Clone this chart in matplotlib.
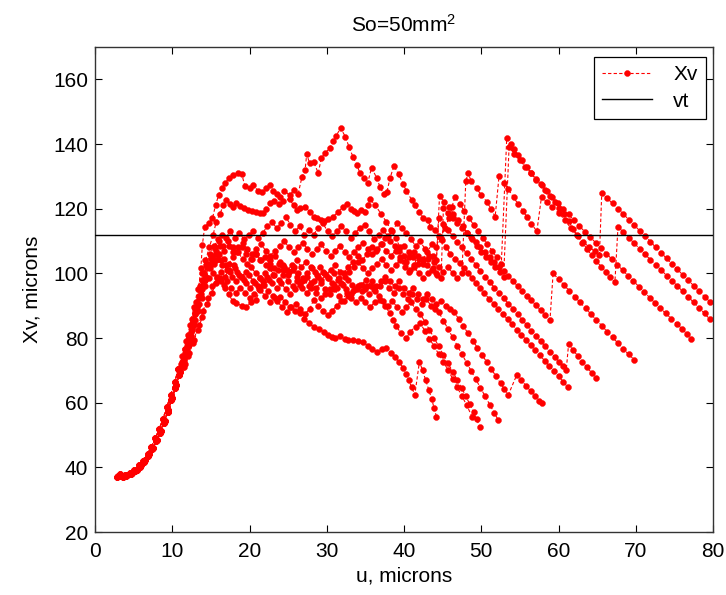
import matplotlib
matplotlib.use('Agg')
import matplotlib.pyplot as plt

plt.rcParams['font.family'] = ['Liberation Sans', 'DejaVu Sans']
plt.rcParams['mathtext.fontset'] = 'custom'
plt.rcParams['mathtext.rm'] = 'Liberation Sans'

# ---------------- data ----------------
x_ticks = [0, 10, 20, 30, 40, 50, 60, 70, 80]
y_ticks = [20, 40, 60, 80, 100, 120, 140, 160]
vt_level = 112

# shared initial rise (three slightly different realisations)
rise_a = [(3.0,37.2),(3.6,37.0),(4.2,37.5),(4.8,38.2),(5.4,39.3),(6.0,40.8),(6.5,42.3),(7.0,44.0),(7.5,46.0),(8.0,48.4),(8.5,51.2),(9.0,54.3),(9.5,57.8),(10.0,61.5),(10.5,65.4),(11.0,69.5)]
rise_b = [(3.3,37.8),(3.9,37.6),(4.5,38.3),(5.1,39.2),(5.7,40.6),(6.2,42.0),(6.8,44.2),(7.3,46.4),(7.8,49.0),(8.3,51.8),(8.8,55.0),(9.3,58.6),(9.8,62.4),(10.3,66.3),(10.8,70.4)]
rise_c = [(2.8,37.0),(3.4,37.4),(4.0,37.2),(4.6,37.9),(5.2,38.8),(5.8,40.2),(6.3,41.6),(6.9,43.6),(7.4,45.7),(7.9,48.1),(8.4,50.7),(8.9,53.8),(9.4,57.2),(9.9,60.8),(10.4,64.6),(10.9,68.6)]

run1_tail = [(11.5,73.5),(12.0,78.0),(12.5,83.0),(13.0,89.0),(13.4,95.0),(13.7,101.5),(13.9,108.8),(14.2,114.4),(14.7,115.5),(15.2,117.0),(15.6,121.0),(16.0,124.2),(16.4,126.5),(16.8,127.9),(17.4,129.5),(17.9,130.4),(18.5,131.0),(19.0,130.7),(19.4,127.0),(20.0,126.5),(20.5,127.3),(21.1,125.5),(21.6,125.2),(22.2,126.5),(22.7,127.3),(23.1,125.5),(23.5,124.6),(24.0,123.5),(24.5,125.5),(25.2,124.2),(25.8,125.8),(26.3,124.6),(26.8,129.9),(27.2,132.0),(27.4,136.8),(27.8,134.0),(28.3,134.5),(28.9,131.0),(29.3,135.7),(29.8,137.2),(30.4,138.8),(30.8,141.0),(31.2,142.5),(31.8,144.9),(32.4,142.3),(32.9,139.0),(33.4,136.0),(33.9,133.5),(34.3,131.0),(34.8,129.5),(35.3,128.0),(35.8,132.6),(36.5,129.4),(36.9,126.6),(37.4,124.5),(37.8,125.3),(38.2,129.5),(38.7,133.3),(39.3,130.6),(39.9,127.6),(40.3,125.5),(41.0,122.7),(41.4,121.0),(42.0,119.0),(42.5,117.0),(43.1,116.5),(43.4,114.4),(44.0,113.5),(44.5,111.5),(44.9,110.3),(45.5,108.0),(46.0,106.0),(46.6,104.5),(47.2,103.1),(47.8,101.5),(48.3,100.0),(48.8,98.5),(49.3,97.0),(49.8,95.5),(50.4,93.8),(51.0,92.2),(51.6,90.6),(52.2,89.0),(52.8,87.4),(53.4,85.8),(54.0,84.2),(54.6,82.6),(55.2,81.0),(55.8,79.4),(56.4,77.8),(57.0,76.2),(57.6,74.6),(58.2,73.0),(58.8,71.4),(59.4,69.8),(60.0,68.2),(60.6,66.5),(61.2,64.8)]

runB_tail = [(11.3,74.5),(11.8,79.0),(12.3,84.0),(12.8,89.5),(13.3,95.0),(13.8,100.0),(14.3,104.0),(14.8,108.0),(15.3,112.0),(15.7,116.0),(16.2,118.5),(16.6,121.0),(17.0,122.6),(17.5,121.5),(17.9,120.6),(18.3,121.7),(18.8,120.8),(19.3,120.1),(19.8,119.6),(20.3,119.3),(20.9,119.1),(21.4,118.8),(21.8,118.6),(22.2,120.0),(22.7,121.7),(23.2,122.5),(23.8,121.5),(24.4,122.5),(25.2,123.0),(25.7,121.0),(26.1,119.6),(26.6,120.2),(27.2,120.6),(27.8,119.0),(28.3,117.5),(28.7,117.0),(29.2,116.5),(29.6,116.3),(30.2,116.8),(30.8,117.5),(31.5,119.0),(32.1,120.6),(32.6,121.5),(33.1,120.0),(33.5,119.3),(33.9,118.6),(34.4,119.5),(34.9,119.0),(35.3,121.0),(35.6,123.0),(36.3,121.0),(37.0,118.5),(37.7,116.0),(38.3,113.5),(38.9,111.0),(39.5,108.0),(40.0,105.5),(40.3,103.5),(40.8,101.0),(41.3,102.5),(41.8,105.5),(42.4,104.0),(43.0,106.5),(43.6,109.0),(44.2,108.0),(44.8,111.0),(45.3,114.0),(45.8,117.0),(46.2,120.5),(46.6,123.7),(47.2,121.5),(47.8,119.3),(48.4,117.2),(49.0,115.0),(49.6,113.0),(50.2,111.0),(50.8,109.0),(51.4,107.0),(52.0,105.0),(52.6,103.0),(53.3,141.8),(53.8,140.0),(54.3,138.3),(54.8,136.6),(55.3,134.9),(55.9,133.0),(56.5,131.0),(57.1,129.2),(57.7,127.6),(58.3,125.9),(58.9,124.0),(59.5,122.2),(60.1,120.3),(60.7,118.3),(61.3,116.2),(61.9,113.8),(62.5,111.5),(63.1,109.5),(63.7,107.5),(64.3,105.6),(64.9,103.8),(65.5,102.1),(66.1,100.5),(66.7,98.8),(67.3,97.2),(67.7,114.4),(68.4,112.7),(69.1,111.0),(69.8,109.3),(70.5,107.6),(71.2,105.9),(71.9,104.2),(72.6,102.6),(73.3,101.0),(74.0,99.3),(74.7,97.7),(75.4,96.0),(76.1,94.4),(76.8,92.7),(77.5,91.0),(78.2,89.4),(78.9,87.6),(79.6,85.8)]

runA_tail = [(11.4,72.5),(11.9,77.0),(12.4,82.0),(12.9,87.5),(13.4,93.0),(13.9,98.0),(14.4,102.5),(14.9,106.0),(15.4,108.5),(15.9,110.5),(16.4,112.0),(16.9,111.0),(17.5,113.0),(18.1,111.0),(18.7,112.5),(19.3,110.5),(19.9,112.0),(20.5,113.0),(21.1,111.0),(21.7,112.5),(22.3,114.5),(22.9,116.0),(23.5,114.0),(24.1,115.5),(24.7,117.5),(25.3,115.0),(25.9,113.0),(26.5,114.5),(27.1,112.0),(27.7,113.5),(28.3,112.0),(28.9,114.0),(29.5,115.5),(30.1,113.0),(30.7,111.5),(31.3,113.0),(31.9,114.5),(32.5,113.0),(33.1,111.0),(33.7,112.5),(34.3,114.0),(34.9,115.0),(35.5,113.0),(36.1,110.5),(36.7,112.0),(37.3,113.5),(37.9,111.5),(38.5,113.0),(39.1,115.5),(39.7,114.0),(40.3,112.5),(40.9,110.5),(41.5,108.5),(42.1,110.0),(42.7,107.5),(43.3,105.5),(43.9,103.5),(44.5,102.0),(45.1,100.5),(45.7,102.0),(46.3,100.0),(46.9,98.5),(47.5,100.0),(48.0,128.5),(48.3,131.0),(48.7,128.5),(49.4,126.3),(50.0,124.2),(50.7,122.2),(51.3,119.8),(51.8,117.5),(52.3,130.0),(52.9,128.0),(53.5,126.0),(54.2,123.5),(54.8,121.3),(55.4,119.3),(55.9,117.5),(56.5,115.3),(57.2,113.0),(57.8,123.7),(58.5,122.0),(59.2,120.5),(60.0,118.8),(60.8,116.5),(61.6,114.0),(62.4,111.8),(63.2,109.8),(64.0,108.0),(64.7,106.8),(65.3,105.7),(65.6,124.8),(66.3,123.2),(67.0,121.6),(67.7,120.0),(68.4,118.3),(69.1,116.6),(69.8,114.9),(70.5,113.2),(71.2,111.5),(71.9,109.8),(72.6,108.0),(73.3,106.3),(74.0,104.6),(74.7,102.9),(75.4,101.2),(76.1,99.5),(76.8,97.8),(77.5,96.2),(78.2,94.5),(78.9,92.8),(79.6,91.2)]

runC_tail = [(11.2,71.5),(11.7,75.5),(12.2,80.0),(12.7,85.0),(13.2,90.0),(13.7,95.0),(14.2,99.0),(14.7,102.5),(15.2,105.0),(15.7,107.0),(16.2,108.5),(16.7,107.0),(17.3,108.5),(17.9,106.5),(18.5,108.0),(19.1,109.5),(19.7,107.5),(20.3,106.0),(20.9,107.5),(21.5,109.0),(22.1,107.0),(22.7,105.5),(23.3,107.0),(23.9,108.5),(24.5,110.0),(25.1,108.0),(25.7,106.5),(26.3,108.0),(26.9,109.5),(27.5,107.5),(28.1,106.0),(28.7,107.5),(29.3,109.0),(29.9,107.0),(30.5,105.5),(31.1,107.0),(31.7,108.5),(32.3,106.5),(32.9,105.0),(33.5,106.5),(34.1,108.0),(34.7,109.5),(35.3,107.5),(35.9,106.0),(36.5,107.5),(37.1,109.0),(37.7,107.0),(38.3,105.5),(38.9,107.0),(39.5,105.0),(40.1,103.5),(40.7,105.0),(41.3,106.5),(41.9,104.5),(42.5,103.0),(43.1,104.5),(43.7,105.5),(44.2,104.0),(44.6,124.0),(45.2,122.0),(45.8,120.5),(46.4,118.5),(47.0,116.5),(47.6,114.5),(48.2,112.5),(48.8,110.5),(49.4,108.5),(50.0,106.5),(50.6,105.0),(51.2,103.5),(51.8,102.0),(52.4,100.5),(52.9,99.0),(53.6,139.0),(54.3,137.0),(55.0,135.0),(55.7,133.0),(56.4,131.0),(57.1,129.0),(57.8,127.2),(58.5,125.4),(59.2,123.6),(59.9,121.8),(60.6,120.0),(61.3,118.2),(62.0,116.4),(62.7,114.6),(63.4,112.9),(64.1,111.2),(64.8,109.5),(65.5,107.8),(66.2,106.1),(66.9,104.4),(67.6,102.7),(68.3,101.0),(69.0,99.3),(69.7,97.6),(70.4,95.9),(71.1,94.2),(71.8,92.5),(72.5,90.8),(73.2,89.2),(73.9,87.6),(74.6,86.0),(75.3,84.4),(76.0,82.8),(76.6,81.3),(77.2,79.8)]

runD_tail = [(11.1,72.0),(11.6,76.5),(12.1,81.0),(12.6,86.0),(13.1,91.0),(13.6,96.0),(14.1,100.0),(14.6,103.0),(15.1,105.5),(15.6,104.0),(16.1,106.0),(16.7,104.5),(17.3,103.0),(17.9,105.0),(18.5,106.5),(19.1,104.5),(19.7,103.0),(20.3,104.5),(20.9,106.0),(21.5,104.0),(22.1,102.5),(22.7,104.0),(23.3,105.5),(23.9,103.5),(24.5,102.0),(25.1,100.5),(25.7,102.0),(26.3,100.0),(26.9,98.5),(27.5,100.0),(28.1,101.5),(28.7,99.5),(29.3,98.0),(29.9,99.5),(30.5,101.0),(31.1,102.5),(31.7,100.5),(32.3,99.0),(32.9,100.5),(33.5,102.0),(34.1,103.5),(34.7,101.5),(35.3,100.0),(35.9,101.5),(36.5,103.0),(37.1,104.5),(37.7,102.5),(38.3,101.0),(38.9,102.5),(39.5,104.0),(40.1,102.0),(40.7,100.5),(41.3,102.0),(41.9,100.0),(42.5,98.5),(43.1,100.0),(43.7,101.5),(44.3,99.5),(44.8,98.5),(45.1,120.1),(45.7,118.6),(46.3,117.1),(46.9,115.6),(47.5,114.1),(48.1,112.6),(48.7,111.1),(49.3,109.6),(49.9,108.1),(50.5,106.6),(51.1,105.1),(51.7,103.6),(52.3,102.1),(52.9,100.6),(53.5,99.1),(54.1,97.6),(54.7,96.1),(55.3,94.6),(55.9,93.1),(56.5,91.6),(57.1,90.1),(57.7,88.6),(58.3,87.1),(58.9,85.6),(59.3,100.0),(60.0,98.2),(60.7,96.4),(61.4,94.6),(62.1,92.8),(62.8,91.0),(63.5,89.2),(64.2,87.4),(64.9,85.6),(65.6,83.8),(66.3,82.0),(67.0,80.2),(67.7,78.4),(68.4,76.6),(69.1,74.9),(69.8,73.3)]

runE_tail = [(11.3,71.5),(11.8,75.5),(12.3,79.5),(12.8,84.0),(13.3,88.5),(13.8,92.5),(14.3,96.0),(14.8,98.5),(15.3,100.0),(15.8,98.5),(16.3,100.5),(16.8,99.0),(17.4,101.0),(18.0,102.5),(18.4,100.5),(19.0,99.0),(19.6,100.5),(20.2,102.0),(20.8,100.0),(21.4,98.5),(22.0,100.0),(22.6,101.5),(23.2,99.5),(23.8,98.0),(24.4,99.5),(25.0,97.5),(25.6,96.0),(26.2,97.5),(26.8,95.5),(27.4,94.0),(28.0,95.5),(28.6,94.0),(29.2,92.5),(29.8,93.5),(30.4,95.0),(31.0,96.5),(31.6,98.5),(32.2,100.0),(32.8,102.0),(33.4,103.5),(34.0,105.5),(34.6,104.0),(35.2,106.0),(35.8,108.0),(36.4,107.0),(37.0,109.0),(37.6,111.0),(38.2,110.0),(38.8,108.5),(39.4,107.0),(40.0,108.5),(40.6,106.5),(41.2,105.0),(41.8,103.0),(42.4,104.5),(43.0,102.5),(43.6,101.0),(44.1,100.0),(44.5,117.0),(45.1,115.2),(45.7,113.4),(46.3,111.6),(46.9,109.8),(47.5,108.0),(48.1,106.2),(48.7,104.4),(49.3,102.6),(49.9,100.8),(50.5,99.0),(51.1,97.3),(51.7,95.6),(52.3,94.0),(52.9,92.3),(53.5,90.6),(54.1,89.0),(54.7,87.3),(55.3,85.6),(55.9,84.0),(56.5,82.3),(57.1,80.6),(57.7,79.0),(58.3,77.4),(58.9,75.8),(59.5,74.2),(60.1,72.6),(60.6,71.2),(61.0,70.0),(61.3,78.0),(61.9,76.3),(62.5,74.4),(63.1,72.6),(63.7,70.9),(64.3,69.2),(64.9,67.6)]

runF_tail = [(11.6,72.0),(12.2,75.5),(12.8,79.5),(13.4,84.0),(14.0,88.5),(14.6,92.5),(15.2,96.0),(15.8,99.0),(16.3,97.5),(16.8,95.5),(17.3,93.5),(17.8,91.5),(18.3,90.7),(19.0,90.0),(19.6,89.7),(20.2,91.0),(20.8,91.8),(21.4,94.9),(22.0,93.0),(22.7,91.2),(23.3,92.5),(24.0,92.8),(24.6,91.0),(25.3,89.5),(25.9,88.2),(26.5,87.6),(27.1,86.0),(27.7,84.5),(28.3,83.5),(29.0,82.8),(29.6,82.0),(30.2,81.0),(30.7,80.4),(31.1,79.9),(31.7,80.6),(32.3,79.8),(32.8,79.4),(33.4,79.4),(34.0,79.2),(34.7,78.8),(35.3,77.5),(35.9,76.6),(36.5,75.8),(37.1,76.5),(37.7,76.8),(38.3,75.5),(38.8,74.2),(39.4,72.5),(39.9,70.6),(40.3,68.8),(40.6,67.0),(41.0,64.7),(41.4,62.4),(42.0,72.7),(42.4,70.0),(42.8,67.0),(43.2,64.0),(43.6,61.0),(43.9,58.3),(44.2,55.7)]

runG_tail = [(11.5,71.0),(12.1,74.5),(12.7,78.5),(13.3,82.5),(13.9,86.5),(14.5,90.5),(15.1,94.0),(15.7,97.0),(16.2,98.5),(16.7,96.5),(17.1,97.5),(17.6,95.5),(18.2,94.0),(18.8,95.5),(19.4,94.0),(20.0,92.5),(20.6,93.5),(21.2,95.0),(21.8,96.5),(22.4,94.5),(23.0,93.0),(23.6,91.5),(24.2,89.5),(24.8,88.0),(25.4,89.5),(26.0,90.5),(26.6,89.0),(27.2,87.5),(27.8,89.0),(28.3,91.8),(28.9,90.0),(29.5,88.5),(30.1,87.0),(30.7,88.5),(31.3,90.0),(31.9,91.5),(32.6,93.8),(33.2,92.5),(33.8,91.0),(34.4,92.5),(35.0,91.0),(35.6,89.5),(36.2,91.0),(36.9,91.8),(37.5,90.0),(38.2,87.6),(38.6,85.5),(39.0,83.7),(39.6,81.5),(40.3,79.9),(40.8,82.0),(41.5,83.5),(42.1,84.6),(42.7,82.2),(43.3,79.8),(43.9,77.4),(44.5,75.0),(45.1,72.6),(45.7,70.1),(46.3,67.4),(46.9,64.7),(47.5,62.0),(48.1,59.3),(48.8,55.7)]

runH_tail = [(11.2,72.5),(11.7,76.5),(12.2,80.5),(12.7,85.0),(13.2,89.5),(13.7,93.5),(14.2,98.0),(14.7,102.0),(15.2,104.0),(15.7,106.0),(16.3,104.0),(16.9,102.5),(17.5,100.5),(18.1,101.5),(18.7,99.5),(19.3,98.0),(19.9,99.5),(20.5,97.5),(21.1,96.0),(21.7,97.5),(22.3,99.0),(22.9,97.0),(23.5,95.5),(24.1,97.0),(24.7,95.0),(25.3,93.5),(25.9,95.0),(26.5,96.5),(27.1,98.0),(27.7,96.0),(28.3,97.5),(28.9,99.0),(29.5,100.5),(30.1,98.5),(30.7,97.0),(31.3,95.5),(31.9,97.0),(32.5,95.0),(33.1,93.5),(33.7,95.0),(34.3,96.5),(34.9,95.0),(35.5,93.5),(36.1,95.0),(36.7,93.0),(37.3,91.5),(37.9,90.0),(38.5,91.5),(39.1,89.5),(39.7,88.0),(40.3,89.5),(40.9,91.0),(41.5,89.0),(42.1,87.5),(42.7,85.0),(43.3,82.5),(43.9,80.0),(44.5,77.4),(45.1,74.8),(45.7,72.2),(46.3,69.6),(46.9,67.0),(47.5,64.4),(48.0,62.0),(48.5,59.6),(49.0,57.0),(49.4,54.8),(49.8,52.6)]

runI_tail = [(11.4,71.0),(11.9,75.5),(12.4,80.5),(12.9,85.5),(13.4,90.5),(13.9,95.0),(14.4,99.0),(14.9,101.5),(15.4,103.0),(15.9,104.5),(16.5,102.5),(17.1,101.0),(17.7,99.0),(18.3,97.5),(18.9,99.0),(19.5,97.0),(20.1,95.5),(20.7,97.0),(21.3,98.5),(21.9,96.5),(22.5,98.0),(23.1,99.5),(23.7,101.0),(24.3,102.5),(24.9,101.0),(25.5,102.5),(26.1,104.0),(26.7,102.0),(27.3,103.5),(27.9,102.0),(28.5,100.5),(29.1,102.0),(29.7,100.0),(30.3,98.5),(30.9,100.0),(31.5,98.0),(32.1,96.5),(32.7,98.0),(33.3,96.5),(33.9,95.0),(34.5,96.5),(35.1,98.0),(35.7,96.0),(36.3,94.5),(36.9,96.0),(37.5,97.5),(38.1,95.5),(38.7,94.0),(39.3,95.5),(39.9,93.5),(40.5,92.0),(41.1,93.5),(41.7,92.0),(42.3,90.5),(42.9,92.0),(43.5,90.0),(44.0,89.0),(44.5,88.0),(45.1,85.4),(45.7,82.8),(46.3,80.2),(46.9,77.6),(47.5,75.0),(48.1,72.4),(48.7,69.8),(49.3,67.2),(49.9,64.6),(50.5,62.0),(51.1,59.4),(51.7,56.8),(52.2,54.6)]

runJ_tail = [(11.5,73.0),(12.0,77.5),(12.5,82.5),(13.0,87.5),(13.5,92.5),(14.0,97.5),(14.5,102.0),(15.0,105.5),(15.5,108.0),(16.0,110.0),(16.6,108.5),(17.2,110.0),(17.8,108.0),(18.4,106.5),(19.0,108.0),(19.6,106.0),(20.2,104.5),(20.8,106.0),(21.4,104.0),(22.0,105.0),(22.6,103.0),(23.2,101.5),(23.8,103.0),(24.4,101.0),(25.0,99.5),(25.6,101.0),(26.2,99.0),(26.8,97.5),(27.4,99.0),(28.0,97.0),(28.6,95.5),(29.2,97.0),(29.8,95.0),(30.4,93.5),(31.0,95.0),(31.6,93.0),(32.2,91.5),(32.8,93.0),(33.4,94.5),(34.0,96.0),(34.6,94.5),(35.2,96.0),(35.8,97.5),(36.4,96.0),(37.0,97.5),(37.6,99.0),(38.2,97.5),(38.8,96.0),(39.4,97.5),(40.0,95.5),(40.6,94.0),(41.2,95.5),(41.8,93.5),(42.4,92.0),(43.0,93.5),(43.6,92.0),(44.2,90.5),(44.8,91.5),(45.4,90.0),(46.0,89.0),(46.5,88.0),(47.1,85.8),(47.7,83.6),(48.3,81.4),(48.9,79.2),(49.5,77.0),(50.1,74.8),(50.7,72.6),(51.3,70.4),(51.9,68.2),(52.5,66.0),(53.0,64.2),(53.5,62.4),(54.6,68.6),(55.2,66.9),(55.8,65.2),(56.4,63.6),(57.0,62.0),(57.5,60.6),(57.8,59.8)]

runs = [
    rise_a + run1_tail,
    rise_b + runB_tail,
    rise_c + runA_tail,
    rise_a + runC_tail,
    rise_b + runD_tail,
    rise_c + runE_tail,
    rise_a + runF_tail,
    rise_c + runG_tail,
    rise_b + runH_tail,
    rise_a + runI_tail,
    rise_c + runJ_tail,
]

# ---------------- figure ----------------
W, H = 726, 595
fig = plt.figure(figsize=(W / 100, H / 100), dpi=100)
ax = fig.add_axes([95 / W, 63 / H, 618 / W, 485 / H])

handles = []
for i, run in enumerate(runs):
    u = [p[0] for p in run]
    xv = [p[1] for p in run]
    h, = ax.plot(u, xv, color='red', linestyle=(0, (3, 2)), linewidth=0.8,
                 marker='o', markersize=4.3, markerfacecolor='red',
                 markeredgecolor='red', markeredgewidth=0.3,
                 label='Xv' if i == 0 else '_nolegend_', zorder=2)
    if i == 0:
        handles.append(h)

hv = ax.axhline(vt_level, color='black', linewidth=1.0, label='vt', zorder=3)
handles.append(hv)

ax.set_xlim(0, 80)
ax.set_ylim(20, 170)
ax.set_xticks(x_ticks)
ax.set_yticks(y_ticks)
ax.tick_params(direction='in', top=True, right=True, length=5, width=0.8,
               labelsize=15)
ax.tick_params(axis='x', pad=7)
ax.tick_params(axis='y', pad=5)
for s in ax.spines.values():
    s.set_linewidth(1.0)
    s.set_color('#333333')

ax.set_xlabel('u, microns', fontsize=15, labelpad=4)
ax.set_ylabel('Xv, microns', fontsize=15, labelpad=8)
ax.set_title(r'So=50mm$\mathregular{^2}$', fontsize=15, pad=11)

leg = ax.legend(handles=handles, loc='upper right',
                bbox_to_anchor=(706 / W, 1 - 57 / H),
                bbox_transform=fig.transFigure, borderaxespad=0,
                fontsize=15, frameon=True, fancybox=False, framealpha=1,
                edgecolor='black', handlelength=2.4, handletextpad=1.0,
                borderpad=0.4, labelspacing=0.35, numpoints=1)
leg.get_frame().set_linewidth(0.9)

fig.savefig('out.png', dpi=100)
